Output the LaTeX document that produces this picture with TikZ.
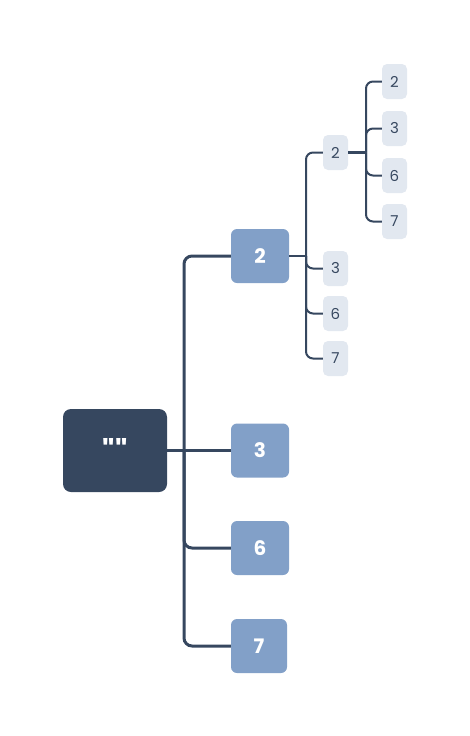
\documentclass[tikz,border=0pt]{standalone}
\usepackage{fontspec}
\setmainfont{Poppins}
\newfontfamily\rootfont{Poppins}
\definecolor{dark}{HTML}{36475F}
\definecolor{mid}{HTML}{82A0C8}
\definecolor{light}{HTML}{E2E8F0}
\begin{document}
\begin{tikzpicture}[x=1pt,y=-1pt,
  rootbox/.style={fill=dark,rounded corners=8pt,minimum width=104pt,minimum height=83pt,text=white,font=\rootfont\bfseries\fontsize{30}{30}\selectfont,inner sep=0pt},
  lvlone/.style={fill=mid,rounded corners=6pt,minimum width=58pt,minimum height=54pt,text=white,font=\bfseries\fontsize{20}{20}\selectfont,inner sep=0pt},
  lvltwo/.style={fill=light,rounded corners=5pt,minimum width=25pt,minimum height=35pt,text=dark,font=\fontsize{15}{15}\selectfont,inner sep=0pt},
  conn/.style={draw=dark,line width=3pt,rounded corners=8pt},
  connsm/.style={draw=dark,line width=2pt,rounded corners=7pt}]
\useasboundingbox (0,0) rectangle (470,736);
\node[rootbox] (root) at (115,450.5) {\raisebox{-0.25em}{""}};
\node[lvlone] (a2) at (260,256) {2};
\node[lvlone] (a3) at (260,450.5) {3};
\node[lvlone] (a6) at (260,548) {6};
\node[lvlone,minimum width=56pt] (a7) at (259,646) {7};
\node[lvltwo] (b2) at (335.5,152.5) {2};
\node[lvltwo] (b3) at (335.5,268.5) {3};
\node[lvltwo] (b6) at (335.5,313.5) {6};
\node[lvltwo] (b7) at (335.5,358.5) {7};
\node[lvltwo] (c2) at (394.5,81.5) {2};
\node[lvltwo] (c3) at (394.5,128.5) {3};
\node[lvltwo] (c6) at (394.5,175.5) {6};
\node[lvltwo] (c7) at (394.5,221.5) {7};
% level 1 connectors
\coordinate (t) at (184,450.5);
\draw[conn] (root.east) -- (t);
\draw[conn] (t) |- (a2.west);
\draw[conn] (t) -- (a3.west);
\draw[conn] (t) |- (a6.west);
\draw[conn] (t) |- (a7.west);
% level 2 connectors
\coordinate (u) at (306,256);
\draw[connsm] (a2.east) -- (u);
\draw[connsm] (u) |- (b2.west);
\draw[connsm] (u) |- (b3.west);
\draw[connsm] (u) |- (b6.west);
\draw[connsm] (u) |- (b7.west);
% level 3 connectors
\coordinate (v) at (366,152.5);
\draw[connsm,line width=2.5pt] (b2.east) -- (v);
\draw[connsm] (v) |- (c2.west);
\draw[connsm] (v) |- (c3.west);
\draw[connsm] (v) |- (c6.west);
\draw[connsm] (v) |- (c7.west);
\end{tikzpicture}
\end{document}
